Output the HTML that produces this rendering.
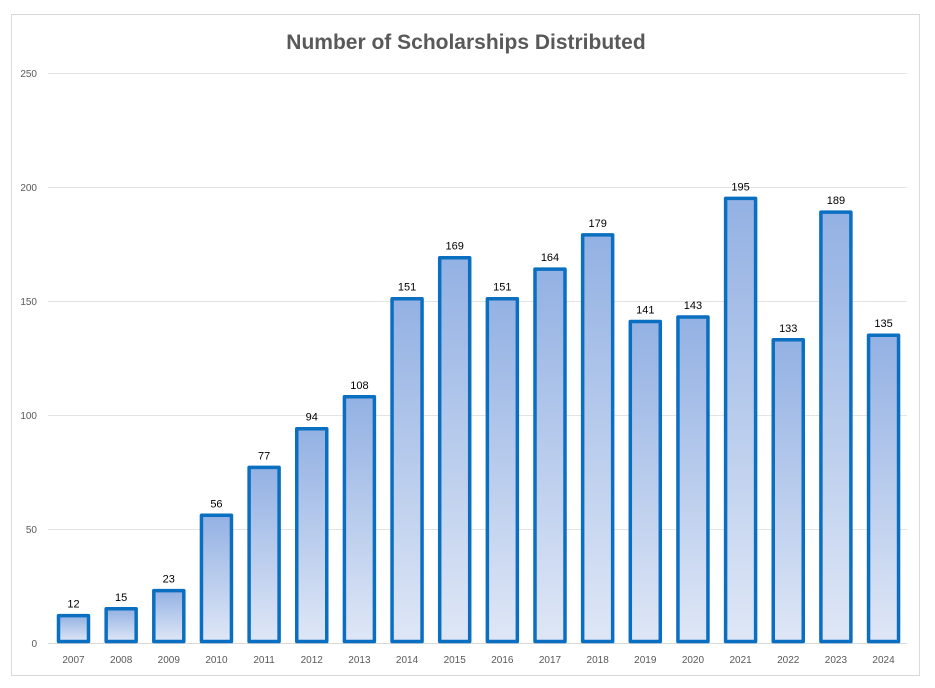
<!DOCTYPE html>
<html><head><style>
html,body{margin:0;padding:0;background:#fff;}
svg{display:block;font-family:"Liberation Sans",sans-serif;}
</style></head><body>
<svg width="935" height="688" viewBox="0 0 935 688" xmlns="http://www.w3.org/2000/svg">
<defs>
<linearGradient id="g" x1="0" y1="0" x2="0" y2="1">
<stop offset="0" stop-color="#93b1e3"/>
<stop offset="1" stop-color="#dfe7f6"/>
</linearGradient>
</defs>
<rect x="11.5" y="14.5" width="908" height="661" fill="#fff" stroke="#d9d9d9"/>
<text x="466" y="49" text-anchor="middle" font-size="21" font-weight="bold" fill="#595959">Number of Scholarships Distributed</text>
<g stroke="#e3e3e3" stroke-width="1">
<line x1="48" x2="907" y1="73.5" y2="73.5"/>
<line x1="48" x2="907" y1="187.5" y2="187.5"/>
<line x1="48" x2="907" y1="301.5" y2="301.5"/>
<line x1="48" x2="907" y1="415.5" y2="415.5"/>
<line x1="48" x2="907" y1="529.5" y2="529.5"/>
<line x1="48" x2="907" y1="643.5" y2="643.5" stroke="#d9d9d9"/>
</g>
<g font-size="10" fill="#595959" text-anchor="end">
<text x="37" y="647">0</text>
<text x="37" y="533">50</text>
<text x="37" y="419">100</text>
<text x="37" y="305">150</text>
<text x="37" y="191">200</text>
<text x="37" y="77">250</text>
</g>
<g fill="url(#g)" stroke="#0a6fc1" stroke-width="3.5" stroke-linejoin="round">
<rect x="58.5" y="615.6" width="30" height="25.9"/>
<rect x="106.15" y="608.8" width="30" height="32.7"/>
<rect x="153.8" y="590.6" width="30" height="50.9"/>
<rect x="201.45" y="515.3" width="30" height="126.2"/>
<rect x="249.1" y="467.4" width="30" height="174.1"/>
<rect x="296.75" y="428.7" width="30" height="212.8"/>
<rect x="344.4" y="396.8" width="30" height="244.7"/>
<rect x="392.05" y="298.7" width="30" height="342.8"/>
<rect x="439.7" y="257.7" width="30" height="383.8"/>
<rect x="487.35" y="298.7" width="30" height="342.8"/>
<rect x="535" y="269.1" width="30" height="372.4"/>
<rect x="582.65" y="234.9" width="30" height="406.6"/>
<rect x="630.3" y="321.5" width="30" height="320"/>
<rect x="677.95" y="317" width="30" height="324.5"/>
<rect x="725.6" y="198.4" width="30" height="443.1"/>
<rect x="773.25" y="339.8" width="30" height="301.7"/>
<rect x="820.9" y="212.1" width="30" height="429.4"/>
<rect x="868.55" y="335.2" width="30" height="306.3"/>
</g>
<g font-size="11" fill="#000" text-anchor="middle">
<text x="73.5" y="607.6">12</text>
<text x="121.15" y="600.8">15</text>
<text x="168.8" y="582.6">23</text>
<text x="216.45" y="507.3">56</text>
<text x="264.1" y="459.4">77</text>
<text x="311.75" y="420.7">94</text>
<text x="359.4" y="388.8">108</text>
<text x="407.05" y="290.7">151</text>
<text x="454.7" y="249.7">169</text>
<text x="502.35" y="290.7">151</text>
<text x="550" y="261.1">164</text>
<text x="597.65" y="226.9">179</text>
<text x="645.3" y="313.5">141</text>
<text x="692.95" y="309">143</text>
<text x="740.6" y="190.4">195</text>
<text x="788.25" y="331.8">133</text>
<text x="835.9" y="204.1">189</text>
<text x="883.55" y="327.2">135</text>
</g>
<g font-size="10" fill="#595959" text-anchor="middle">
<text x="73.5" y="663">2007</text>
<text x="121.15" y="663">2008</text>
<text x="168.8" y="663">2009</text>
<text x="216.45" y="663">2010</text>
<text x="264.1" y="663">2011</text>
<text x="311.75" y="663">2012</text>
<text x="359.4" y="663">2013</text>
<text x="407.05" y="663">2014</text>
<text x="454.7" y="663">2015</text>
<text x="502.35" y="663">2016</text>
<text x="550" y="663">2017</text>
<text x="597.65" y="663">2018</text>
<text x="645.3" y="663">2019</text>
<text x="692.95" y="663">2020</text>
<text x="740.6" y="663">2021</text>
<text x="788.25" y="663">2022</text>
<text x="835.9" y="663">2023</text>
<text x="883.55" y="663">2024</text>
</g>
</svg>
</body></html>
